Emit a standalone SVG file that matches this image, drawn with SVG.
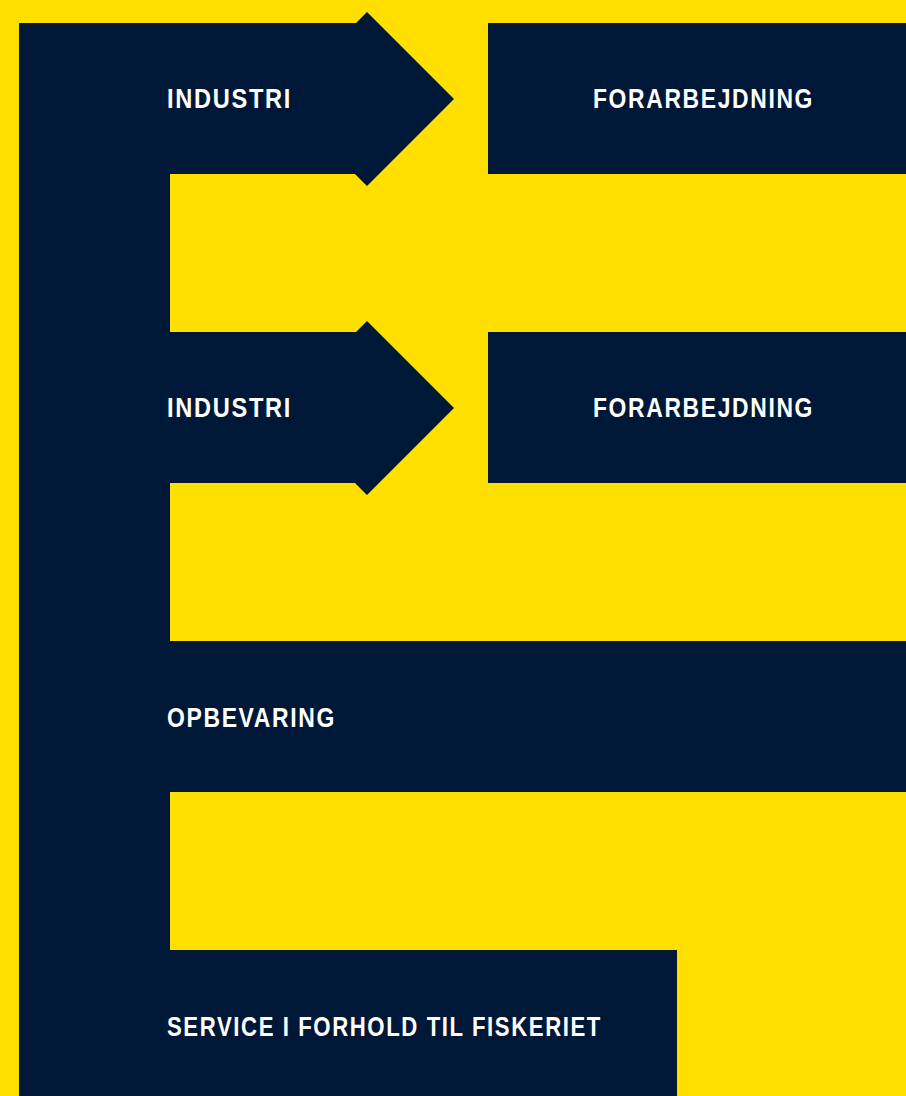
<svg xmlns="http://www.w3.org/2000/svg" width="906" height="1096" viewBox="0 0 906 1096">
  <style>
    .bg { fill: #FFDF00; }
    .nv { fill: #001837; }
    .lbl { fill: #FFFFFF; font-family: "Liberation Sans", Arial, sans-serif; font-weight: bold; font-size: 28px; letter-spacing: 2px; }
  </style>
  <rect class="bg" x="0" y="0" width="906" height="1096"/>
  <g id="spine">
    <rect class="nv" x="19" y="23" width="151" height="1073"/>
  </g>
  <g id="connectors">
    <polygon id="arrow-1" class="nv" points="19,23 356,23 367,12 454,99 367,186 355,174 19,174"/>
    <polygon id="arrow-2" class="nv" points="19,332 356,332 367,321 454,408 367,495 355,483 19,483"/>
  </g>
  <g id="industri-1">
    <text class="lbl" x="167" y="108" textLength="125" lengthAdjust="spacingAndGlyphs">INDUSTRI</text>
  </g>
  <g id="forarbejdning-1">
    <rect class="nv" x="488" y="23" width="418" height="151"/>
    <text class="lbl" x="593" y="108" textLength="221" lengthAdjust="spacingAndGlyphs">FORARBEJDNING</text>
  </g>
  <g id="industri-2">
    <text class="lbl" x="167" y="417" textLength="125" lengthAdjust="spacingAndGlyphs">INDUSTRI</text>
  </g>
  <g id="forarbejdning-2">
    <rect class="nv" x="488" y="332" width="418" height="151"/>
    <text class="lbl" x="593" y="417" textLength="221" lengthAdjust="spacingAndGlyphs">FORARBEJDNING</text>
  </g>
  <g id="opbevaring">
    <rect class="nv" x="19" y="641" width="887" height="151"/>
    <text class="lbl" x="167" y="727" textLength="169" lengthAdjust="spacingAndGlyphs">OPBEVARING</text>
  </g>
  <g id="service">
    <rect class="nv" x="19" y="950" width="658" height="146"/>
    <text class="lbl" x="167" y="1036" textLength="435" lengthAdjust="spacingAndGlyphs">SERVICE I FORHOLD TIL FISKERIET</text>
  </g>
</svg>
